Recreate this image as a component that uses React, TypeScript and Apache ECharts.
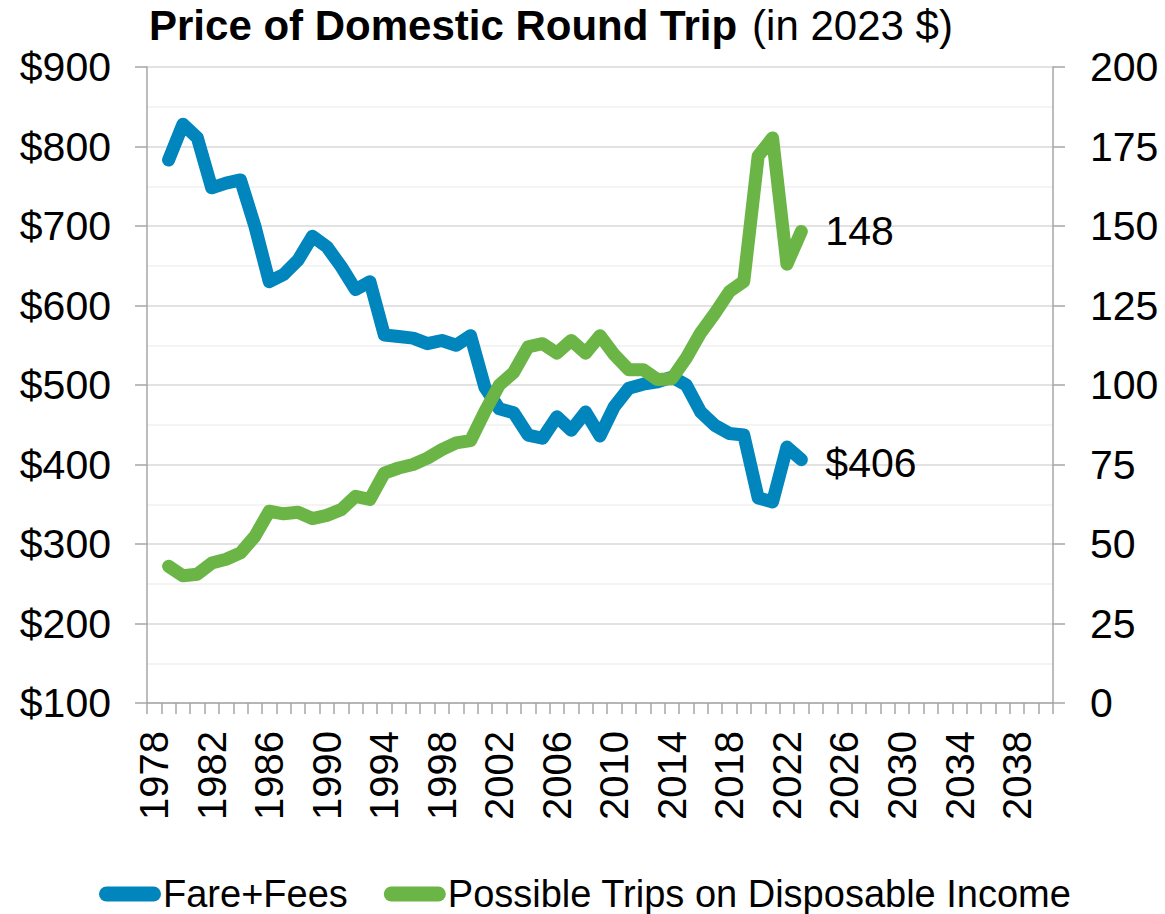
import React, { useEffect, useRef } from "react";
import * as echarts from "echarts";

const years: string[] = [
  "1978", "1979", "1980", "1981", "1982", "1983", "1984", "1985", "1986", "1987",
  "1988", "1989", "1990", "1991", "1992", "1993", "1994", "1995", "1996", "1997",
  "1998", "1999", "2000", "2001", "2002", "2003", "2004", "2005", "2006", "2007",
  "2008", "2009", "2010", "2011", "2012", "2013", "2014", "2015", "2016", "2017",
  "2018", "2019", "2020", "2021", "2022", "2023", "2024", "2025", "2026", "2027",
  "2028", "2029", "2030", "2031", "2032", "2033", "2034", "2035", "2036", "2037",
  "2038", "2039", "2040",
];

// values for 1979..2023
const fareFees: number[] = [
  783, 828, 811, 748, 754, 758, 700, 630, 639, 657,
  687, 674, 649, 620, 630, 563, 561, 559, 552, 556,
  550, 562, 497, 470, 465, 437, 433, 460, 443, 466,
  436, 473, 496, 501, 504, 510, 500, 466, 449, 439,
  437, 358, 353, 422, 406,
];

const possibleTrips: number[] = [
  43, 40, 40.5, 44, 45.2, 47.2, 52.4, 60.3, 59.5, 60,
  58, 59, 60.8, 65, 64, 72.3, 73.9, 75, 77, 79.7,
  81.8, 82.5, 91.7, 100, 104, 112, 113, 110, 114, 110,
  115.5, 109.5, 104.8, 104.8, 101.7, 102, 108.5, 116.4, 122.6, 129.4,
  132.6, 172, 177.7, 138, 148.3,
];

const firstDataYear = "1979";

function toSeries(vals: number[]): (number | null)[] {
  const start = years.indexOf(firstDataYear);
  return years.map((_, i) => {
    const k = i - start;
    return k >= 0 && k < vals.length ? vals[k] : null;
  });
}

const FONT = "'Liberation Sans', Arial, sans-serif";
const BLUE = "#0085BD";
const GREEN = "#6AB546";
const AXIS_GRAY = "#A6A6A6";
const capsule = "path://M7.5,0 H54.5 A7.5,7.5 0 0 1 54.5,15 H7.5 A7.5,7.5 0 0 1 7.5,0 Z";

export default function App() {
  const ref = useRef<HTMLDivElement>(null);
  useEffect(() => {
    if (!ref.current) return;
    const chart = echarts.init(ref.current, null, { renderer: "svg" });
    chart.setOption({
      animation: false,
      backgroundColor: "#ffffff",
      textStyle: { fontFamily: FONT },
      title: {
        left: 144,
        top: -1,
        text: "{b|Price of Domestic Round Trip} {n|(in 2023 $)}",
        textStyle: {
          rich: {
            b: { fontFamily: FONT, fontSize: 42, fontWeight: "bold", color: "#000" },
            n: { fontFamily: FONT, fontSize: 42, fontWeight: "normal", color: "#000", padding: [0, 0, 0, 10] },
          },
        },
      },
      legend: {
        top: 870,
        left: 94,
        itemWidth: 62,
        itemHeight: 15,
        itemGap: 36,
        textStyle: { fontFamily: FONT, fontSize: 38, color: "#000", padding: [0, 0, 0, -3] },
        data: [
          { name: "Fare+Fees", icon: capsule, itemStyle: { color: BLUE } },
          { name: "Possible Trips on Disposable Income", icon: capsule, itemStyle: { color: GREEN } },
        ],
      },
      grid: { left: 147, right: 112, top: 67, bottom: 211, containLabel: false },
      xAxis: {
        type: "category",
        data: years,
        boundaryGap: true,
        axisLine: { lineStyle: { color: AXIS_GRAY, width: 1.5 } },
        axisTick: { show: true, interval: 0, length: 11, lineStyle: { color: AXIS_GRAY, width: 1.5 } },
        axisLabel: {
          interval: 3,
          rotate: 90,
          margin: 28,
          fontSize: 40,
          fontFamily: FONT,
          color: "#000",
        },
        splitLine: { show: false },
      },
      yAxis: [
        {
          type: "value",
          min: 100,
          max: 900,
          interval: 100,
          position: "left",
          axisLine: { show: true, lineStyle: { color: AXIS_GRAY, width: 1.5 } },
          axisTick: { show: true, length: 12, lineStyle: { color: AXIS_GRAY, width: 1.5 } },
          axisLabel: {
            formatter: (v: number) => "$" + v,
            fontSize: 41,
            fontFamily: FONT,
            color: "#000",
            margin: 36,
          },
          splitLine: { show: true, lineStyle: { color: "#D9D9D9", width: 1.5 } },
          minorTick: { show: false, splitNumber: 2 },
          minorSplitLine: { show: true, lineStyle: { color: "#F0F0F0", width: 1.5 } },
        },
        {
          type: "value",
          min: 0,
          max: 200,
          interval: 25,
          position: "right",
          axisLine: { show: true, lineStyle: { color: AXIS_GRAY, width: 1.5 } },
          axisTick: { show: true, length: 12, lineStyle: { color: AXIS_GRAY, width: 1.5 } },
          axisLabel: {
            fontSize: 41,
            fontFamily: FONT,
            color: "#000",
            margin: 37,
          },
          splitLine: { show: false },
        },
      ],
      series: [
        {
          name: "Fare+Fees",
          type: "line",
          yAxisIndex: 0,
          data: toSeries(fareFees),
          showSymbol: false,
          symbol: "none",
          color: BLUE,
          lineStyle: { color: BLUE, width: 13, cap: "round", join: "round" },
          endLabel: {
            show: true,
            formatter: (p: any) => "$" + Math.round(p.value),
            fontSize: 41,
            fontFamily: FONT,
            color: "#000",
            distance: 24,
            offset: [0, 3],
          },
        },
        {
          name: "Possible Trips on Disposable Income",
          type: "line",
          yAxisIndex: 1,
          data: toSeries(possibleTrips),
          showSymbol: false,
          symbol: "none",
          color: GREEN,
          lineStyle: { color: GREEN, width: 13, cap: "round", join: "round" },
          endLabel: {
            show: true,
            formatter: (p: any) => String(Math.round(p.value)),
            fontSize: 41,
            fontFamily: FONT,
            color: "#000",
            distance: 24,
          },
        },
      ],
    });
    return () => chart.dispose();
  }, []);
  return (
    <div
      ref={ref}
      style={{ position: "absolute", left: 0, top: 0, width: 1165, height: 914 }}
    />
  );
}
